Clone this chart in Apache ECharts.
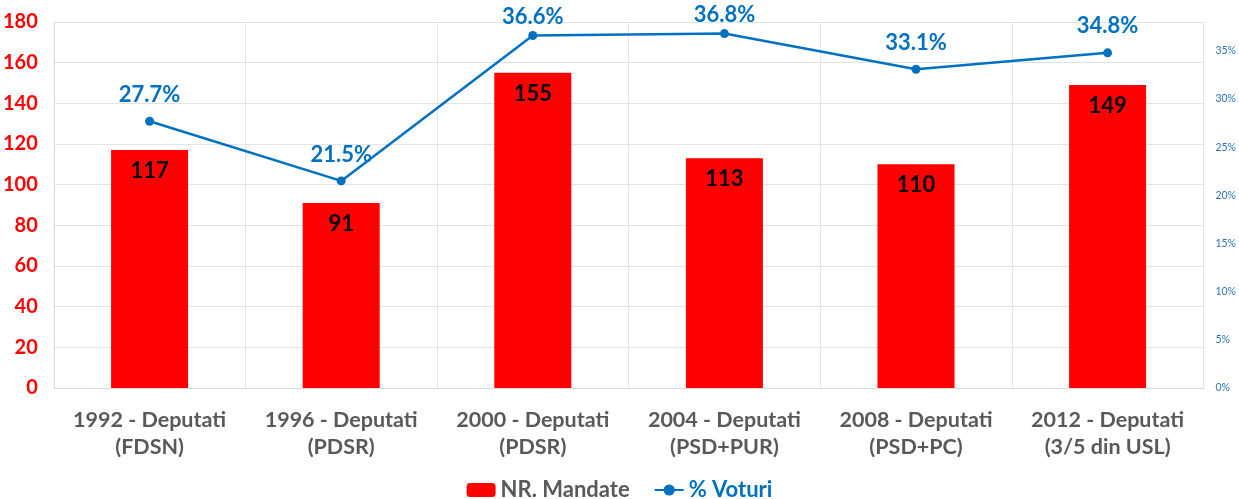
<!DOCTYPE html>
<html lang="ro">
  <head>
    <meta charset="UTF-8" />
    <title>Mandate si voturi</title>
    <script src="https://cdn.jsdelivr.net/npm/echarts@6/dist/echarts.min.js"></script>
    <style>
      html, body { margin: 0; padding: 0; background: #fff; }
      #main { width: 1239px; height: 499px; }
    </style>
  </head>
  <body>
    <div id="main"></div>
    <script>
      const categories = [
        "1992 - Deputati\n(FDSN)",
        "1996 - Deputati\n(PDSR)",
        "2000 - Deputati\n(PDSR)",
        "2004 - Deputati\n(PSD+PUR)",
        "2008 - Deputati\n(PSD+PC)",
        "2012 - Deputati\n(3/5 din USL)",
      ];
      const mandate = [117, 91, 155, 113, 110, 149];
      const voturi = [27.7, 21.5, 36.6, 36.8, 33.1, 34.8];

      const font = "Lato, 'Open Sans', sans-serif";
      const chart = echarts.init(document.getElementById("main"));

      // points near the top get their label pulled closer, like in the original
      const lineData = voturi.map((v) =>
        v > 36 ? { value: v, label: { distance: 3 } } : v
      );

      const option = {
        animation: false,
        textStyle: { fontFamily: font },
        grid: { left: 53, right: 34, top: 22, bottom: 111 },
        legend: {
          bottom: -7,
          left: "center",
          itemGap: 24,
          itemWidth: 29,
          itemHeight: 14,
          data: [
            { name: "NR. Mandate", textStyle: { color: "#595959" } },
            { name: "% Voturi", textStyle: { color: "#0070C0" } },
          ],
          textStyle: { fontSize: 22, fontWeight: "bold", fontFamily: font },
        },
        xAxis: {
          type: "category",
          data: categories,
          axisTick: { show: false },
          axisLine: { lineStyle: { color: "#d9d9d9" } },
          splitLine: { show: true, lineStyle: { color: "#e3e3e3" } },
          axisLabel: {
            color: "#595959",
            fontSize: 21.5,
            fontWeight: "bold",
            lineHeight: 27,
            margin: 19,
            interval: 0,
          },
        },
        yAxis: [
          {
            type: "value",
            min: 0,
            max: 180,
            interval: 20,
            axisLine: { show: true, lineStyle: { color: "#d9d9d9" } },
            splitLine: { lineStyle: { color: "#e3e3e3" } },
            axisLabel: {
              color: "#ff0000",
              fontSize: 20,
              fontWeight: "bold",
              margin: 16,
            },
          },
          {
            type: "value",
            min: 0,
            max: 38,
            interval: 5,
            splitLine: { show: false },
            axisLine: { show: false },
            axisLabel: {
              color: "#2E75B6",
              fontSize: 10.5,
              margin: 12,
              showMaxLabel: false,
              formatter: "{value}%",
            },
          },
        ],
        series: [
          {
            name: "NR. Mandate",
            type: "bar",
            data: mandate,
            barWidth: 77,
            itemStyle: { color: "#ff0000" },
            label: {
              show: true,
              position: "insideTop",
              distance: 10,
              color: "#000",
              fontSize: 22,
              fontWeight: "bold",
            },
          },
          {
            name: "% Voturi",
            type: "line",
            yAxisIndex: 1,
            data: lineData,
            symbol: "circle",
            symbolSize: 9,
            lineStyle: { color: "#0070C0", width: 2.5 },
            itemStyle: { color: "#0070C0" },
            label: {
              show: true,
              position: "top",
              distance: 11,
              color: "#0070C0",
              fontSize: 22,
              fontWeight: "bold",
              formatter: (p) => p.value.toFixed(1) + "%",
            },
          },
        ],
      };

      chart.setOption(option);
    </script>
  </body>
</html>
